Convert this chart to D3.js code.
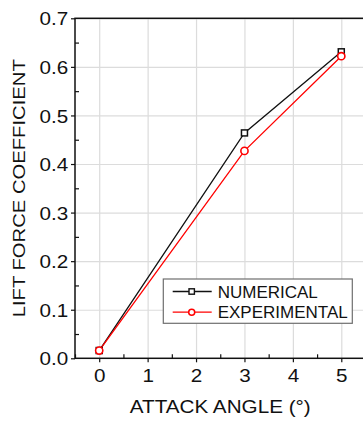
<!DOCTYPE html>
<html>
<head>
<meta charset="utf-8">
<script src="https://cdn.jsdelivr.net/npm/d3@7"></script>
<style>
  html, body { margin: 0; padding: 0; background: #fff; }
  svg { display: block; font-family: "Liberation Sans", Arial, sans-serif; }
</style>
</head>
<body>
<svg id="chart" width="363" height="421"></svg>
<script>
// Lift force coefficient versus attack angle
const angles = [0, 3, 5];
const numerical = [0.016, 0.464, 0.631];
const experimental = [0.016, 0.427, 0.622];
const xTicks = [0, 1, 2, 3, 4, 5];
const xMinorTicks = [-0.5, 0.5, 1.5, 2.5, 3.5, 4.5, 5.5];
const yTicks = [0, 0.1, 0.2, 0.3, 0.4, 0.5, 0.6, 0.7];
const yMinorTicks = [0.05, 0.15, 0.25, 0.35, 0.45, 0.55, 0.65];
const seriesNames = ["NUMERICAL", "EXPERIMENTAL"];

const svg = d3.select("#chart");
const plotLeft = 75, plotRight = 365.5, plotTop = 18.3, plotBottom = 358.3;

const x = d3.scaleLinear().domain([-0.5, 5.5]).range([plotLeft, plotRight]);
const y = d3.scaleLinear().domain([0, 0.7]).range([plotBottom, plotTop]);

// grid
svg.append("g")
  .attr("transform", `translate(0,${plotBottom})`)
  .call(d3.axisBottom(x).tickValues(xTicks).tickSize(-(plotBottom - plotTop)).tickFormat(""))
  .call(g => g.select(".domain").remove())
  .call(g => g.selectAll("line").attr("stroke", "#dcdcdc").attr("stroke-width", 1.2));
svg.append("g")
  .attr("transform", `translate(${plotLeft},0)`)
  .call(d3.axisLeft(y).tickValues(yTicks.slice(1)).tickSize(-(plotRight - plotLeft)).tickFormat(""))
  .call(g => g.select(".domain").remove())
  .call(g => g.selectAll("line").attr("stroke", "#dcdcdc").attr("stroke-width", 1.2));

// frame
svg.append("rect")
  .attr("x", plotLeft).attr("y", plotTop)
  .attr("width", plotRight - plotLeft).attr("height", plotBottom - plotTop)
  .attr("fill", "none").attr("stroke", "#111").attr("stroke-width", 1.5);

// minor ticks (inward)
svg.append("g")
  .attr("transform", `translate(0,${plotBottom})`)
  .call(d3.axisBottom(x).tickValues(xMinorTicks).tickSize(-4).tickFormat(""))
  .call(g => g.select(".domain").remove())
  .call(g => g.selectAll("line").attr("stroke", "#111").attr("stroke-width", 1.2));
svg.append("g")
  .attr("transform", `translate(${plotLeft},0)`)
  .call(d3.axisLeft(y).tickValues(yMinorTicks).tickSize(-4).tickFormat(""))
  .call(g => g.select(".domain").remove())
  .call(g => g.selectAll("line").attr("stroke", "#111").attr("stroke-width", 1.2));

// major ticks with labels
svg.append("g")
  .attr("transform", `translate(0,${plotBottom})`)
  .call(d3.axisBottom(x).tickValues(xTicks).tickSize(4).tickFormat(d3.format("d")))
  .call(g => g.select(".domain").remove())
  .call(g => g.selectAll("line").attr("stroke", "#111").attr("stroke-width", 1.2))
  .call(g => g.selectAll("text")
    .attr("x", null).attr("y", null).attr("dy", null)
    .attr("transform", "translate(0,23.4) scale(1.18,1)")
    .attr("fill", "#111").attr("font-size", 17.5)
    .attr("font-family", "'Liberation Sans', Arial, sans-serif"));
svg.append("g")
  .attr("transform", `translate(${plotLeft},0)`)
  .call(d3.axisLeft(y).tickValues(yTicks).tickSize(4).tickFormat(d3.format(".1f")))
  .call(g => g.select(".domain").remove())
  .call(g => g.selectAll("line").attr("stroke", "#111").attr("stroke-width", 1.2))
  .call(g => g.selectAll("text")
    .attr("x", null).attr("y", null).attr("dy", null)
    .attr("text-anchor", "end")
    .attr("transform", "translate(-6.7,6.6) scale(1.18,1)")
    .attr("fill", "#111").attr("font-size", 17.5)
    .attr("font-family", "'Liberation Sans', Arial, sans-serif"));

// axis titles
svg.append("text")
  .attr("transform", `translate(${(plotLeft + plotRight) / 2},413.3) scale(1.13,1)`)
  .attr("text-anchor", "middle")
  .attr("font-size", 18.3).attr("fill", "#111")
  .text("ATTACK ANGLE (°)");
svg.append("text")
  .attr("transform", `translate(25,${(plotTop + plotBottom) / 2}) rotate(-90) scale(1.17,1)`)
  .attr("text-anchor", "middle")
  .attr("font-size", 17.3).attr("fill", "#111")
  .text("LIFT FORCE COEFFICIENT");

// series
const line = d3.line().x(d => x(d[0])).y(d => y(d[1]));
const numPts = angles.map((a, i) => [a, numerical[i]]);
const expPts = angles.map((a, i) => [a, experimental[i]]);

svg.append("path").datum(numPts).attr("d", line)
  .attr("fill", "none").attr("stroke", "#111").attr("stroke-width", 1.3);
svg.append("path").datum(expPts).attr("d", line)
  .attr("fill", "none").attr("stroke", "#ff0000").attr("stroke-width", 1.3);

const sq = 6;
svg.selectAll("rect.num").data(numPts).enter().append("rect")
  .attr("class", "num")
  .attr("x", d => x(d[0]) - sq / 2).attr("y", d => y(d[1]) - sq / 2)
  .attr("width", sq).attr("height", sq)
  .attr("fill", "#fff").attr("stroke", "#111").attr("stroke-width", 1.5);
svg.selectAll("circle.exp").data(expPts).enter().append("circle")
  .attr("class", "exp")
  .attr("cx", d => x(d[0])).attr("cy", d => y(d[1])).attr("r", 3.6)
  .attr("fill", "#fff").attr("stroke", "#ff0000").attr("stroke-width", 1.6);

// legend
const lg = svg.append("g");
lg.append("rect")
  .attr("x", 163.3).attr("y", 279).attr("width", 189).attr("height", 44.3)
  .attr("fill", "#fff").attr("stroke", "#6e6e6e").attr("stroke-width", 1.2);
const rows = [
  { name: seriesNames[0], color: "#111", marker: "square", cy: 291.5 },
  { name: seriesNames[1], color: "#ff0000", marker: "circle", cy: 312.2 }
];
rows.forEach(r => {
  lg.append("line").attr("x1", 172.7).attr("x2", 211.7)
    .attr("y1", r.cy).attr("y2", r.cy)
    .attr("stroke", r.color).attr("stroke-width", 1.3);
  if (r.marker === "square") {
    lg.append("rect").attr("x", 191.7 - 2.7).attr("y", r.cy - 2.7)
      .attr("width", 5.4).attr("height", 5.4)
      .attr("fill", "#fff").attr("stroke", r.color).attr("stroke-width", 1.4);
  } else {
    lg.append("circle").attr("cx", 191.7).attr("cy", r.cy).attr("r", 3)
      .attr("fill", "#fff").attr("stroke", r.color).attr("stroke-width", 1.5);
  }
  lg.append("text").attr("x", 217.7).attr("y", r.cy + 6)
    .attr("font-size", 17).attr("fill", "#111").text(r.name);
});
</script>
</body>
</html>
